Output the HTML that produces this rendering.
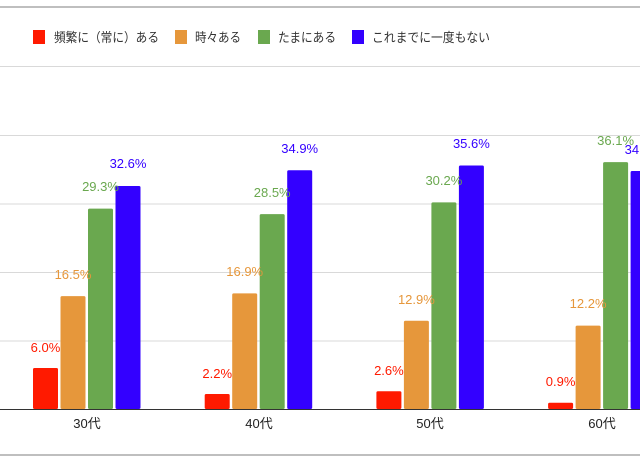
<!DOCTYPE html><html><head><meta charset="utf-8"><style>body{margin:0;background:#fff}svg{display:block}text{font-family:"Liberation Sans","Noto Sans CJK JP",sans-serif}</style></head><body>
<svg width="640" height="469" viewBox="0 0 640 469">
<line x1="0" y1="7" x2="640" y2="7" stroke="#aaa" stroke-width="1.5"/>
<g stroke="#d9d9d9" stroke-width="1"><line x1="0" y1="66.5" x2="640" y2="66.5"/><line x1="0" y1="135.5" x2="640" y2="135.5"/><line x1="0" y1="204" x2="640" y2="204"/><line x1="0" y1="272.5" x2="640" y2="272.5"/><line x1="0" y1="341" x2="640" y2="341"/></g>
<line x1="0" y1="455" x2="640" y2="455" stroke="#aaa" stroke-width="1.5"/>
<g font-size="13" fill="#333">
<rect x="33" y="30" width="12" height="14" fill="#ff1a00"/><text x="54" y="42" textLength="105" lengthAdjust="spacingAndGlyphs">頻繁に（常に）ある</text>
<rect x="175" y="30" width="12" height="14" fill="#e6973b"/><text x="195" y="42" textLength="46" lengthAdjust="spacingAndGlyphs">時々ある</text>
<rect x="258" y="30" width="12" height="14" fill="#6aa84f"/><text x="278" y="42" textLength="58" lengthAdjust="spacingAndGlyphs">たまにある</text>
<rect x="352" y="30" width="12" height="14" fill="#3300ff"/><text x="372" y="42" textLength="118" lengthAdjust="spacingAndGlyphs">これまでに一度もない</text>
</g>
<g>
<rect x="33" y="368" width="25" height="41" rx="1.5" fill="#ff1a00"/>
<rect x="60.5" y="296.1" width="25" height="112.9" rx="1.5" fill="#e6973b"/>
<rect x="88" y="208.6" width="25" height="200.4" rx="1.5" fill="#6aa84f"/>
<rect x="115.5" y="186" width="25" height="223" rx="1.5" fill="#3300ff"/>
<rect x="204.7" y="394" width="25" height="15" rx="1.5" fill="#ff1a00"/>
<rect x="232.2" y="293.4" width="25" height="115.6" rx="1.5" fill="#e6973b"/>
<rect x="259.7" y="214.1" width="25" height="194.9" rx="1.5" fill="#6aa84f"/>
<rect x="287.2" y="170.3" width="25" height="238.7" rx="1.5" fill="#3300ff"/>
<rect x="376.4" y="391.2" width="25" height="17.8" rx="1.5" fill="#ff1a00"/>
<rect x="403.9" y="320.8" width="25" height="88.2" rx="1.5" fill="#e6973b"/>
<rect x="431.4" y="202.4" width="25" height="206.6" rx="1.5" fill="#6aa84f"/>
<rect x="458.9" y="165.5" width="25" height="243.5" rx="1.5" fill="#3300ff"/>
<rect x="548.1" y="402.8" width="25" height="6.2" rx="1.5" fill="#ff1a00"/>
<rect x="575.6" y="325.6" width="25" height="83.4" rx="1.5" fill="#e6973b"/>
<rect x="603.1" y="162.1" width="25" height="246.9" rx="1.5" fill="#6aa84f"/>
<rect x="630.6" y="171" width="25" height="238" rx="1.5" fill="#3300ff"/>
</g>
<g font-size="13" text-anchor="middle">
<text x="45.5" y="352" fill="#ff1a00">6.0%</text>
<text x="73" y="279" fill="#e6973b">16.5%</text>
<text x="100.5" y="191" fill="#6aa84f">29.3%</text>
<text x="128" y="168" fill="#3300ff">32.6%</text>
<text x="217.2" y="378" fill="#ff1a00">2.2%</text>
<text x="244.7" y="276" fill="#e6973b">16.9%</text>
<text x="272.2" y="197" fill="#6aa84f">28.5%</text>
<text x="299.7" y="153" fill="#3300ff">34.9%</text>
<text x="388.9" y="375" fill="#ff1a00">2.6%</text>
<text x="416.4" y="304" fill="#e6973b">12.9%</text>
<text x="443.9" y="185" fill="#6aa84f">30.2%</text>
<text x="471.4" y="148" fill="#3300ff">35.6%</text>
<text x="560.6" y="386" fill="#ff1a00">0.9%</text>
<text x="588.1" y="308" fill="#e6973b">12.2%</text>
<text x="615.6" y="145" fill="#6aa84f">36.1%</text>
<text x="643.1" y="154" fill="#3300ff">34.8%</text>
</g>
<line x1="0" y1="409.5" x2="640" y2="409.5" stroke="#333" stroke-width="1"/>
<g font-size="13" fill="#222" text-anchor="middle"><text x="87" y="428">30代</text><text x="259" y="428">40代</text><text x="430" y="428">50代</text><text x="602" y="428">60代</text></g>
</svg></body></html>
